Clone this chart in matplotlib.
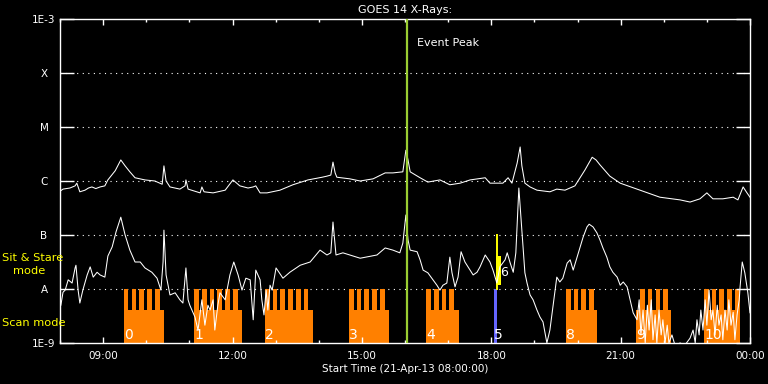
import numpy as np
import matplotlib.pyplot as plt
from matplotlib.ticker import FixedLocator, NullLocator

# GOES 14 long channel, hour of day vs log10 flux (W/m^2)
long_hours = [8.00, 8.07, 8.23, 8.35, 8.39, 8.46, 8.58, 8.66, 8.74, 8.83, 8.93, 9.04, 9.11, 9.28,
              9.41, 9.51, 9.62, 9.74, 9.97, 10.20, 10.37, 10.41, 10.46, 10.55, 10.78, 10.90,
              10.92, 10.97, 11.13, 11.25, 11.29, 11.34, 11.55, 11.83, 12.01, 12.17, 12.36,
              12.48, 12.54, 12.64, 12.80, 13.10, 13.40, 13.75, 14.08, 14.19, 14.28, 14.33,
              14.38, 14.42, 14.72, 14.96, 15.26, 15.54, 15.72, 15.95, 16.02, 16.07, 16.12,
              16.35, 16.53, 16.81, 17.04, 17.28, 17.51, 17.86, 17.97, 18.27, 18.39, 18.48,
              18.60, 18.67, 18.71, 18.78, 18.90, 19.06, 19.36, 19.52, 19.71, 19.94, 20.17,
              20.34, 20.43, 20.52, 20.75, 20.99, 21.45, 21.91, 22.38, 22.61, 22.84, 23.00,
              23.14, 23.37, 23.61, 23.72, 23.84, 23.93, 24.00]
long_logflux = [-6.19, -6.15, -6.13, -6.09, -6.04, -6.20, -6.17, -6.13, -6.11, -6.14, -6.11, -6.09,
                -5.98, -5.81, -5.61, -5.72, -5.83, -5.94, -5.98, -6.00, -6.06, -5.72, -6.00,
                -6.11, -6.15, -6.09, -5.98, -6.15, -6.19, -6.22, -6.11, -6.20, -6.22, -6.17,
                -5.98, -6.09, -6.13, -6.11, -6.09, -6.22, -6.22, -6.17, -6.07, -5.98, -5.93,
                -5.91, -5.89, -5.65, -5.85, -5.93, -5.96, -6.00, -5.96, -5.85, -5.85, -5.83,
                -5.43, -5.61, -5.83, -5.94, -6.02, -5.98, -6.07, -6.04, -5.98, -5.94, -6.04,
                -6.04, -5.94, -6.04, -5.67, -5.37, -5.72, -6.04, -6.11, -6.17, -6.20, -6.15,
                -6.17, -6.09, -5.80, -5.56, -5.61, -5.70, -5.91, -6.04, -6.17, -6.30, -6.35,
                -6.39, -6.33, -6.22, -6.33, -6.33, -6.30, -6.35, -6.11, -6.22, -6.30]

# GOES 14 short channel
short_hours = [8.02, 8.07, 8.12, 8.19, 8.28, 8.35, 8.37, 8.42, 8.46, 8.53, 8.63, 8.70, 8.77,
               8.86, 8.93, 9.04, 9.11, 9.21, 9.30, 9.41, 9.51, 9.62, 9.74, 9.86, 9.97, 10.13,
               10.25, 10.34, 10.39, 10.41, 10.46, 10.55, 10.67, 10.78, 10.85, 10.92, 10.97,
               11.01, 11.13, 11.20, 11.29, 11.36, 11.43, 11.48, 11.55, 11.59, 11.66, 11.71,
               11.83, 11.94, 12.03, 12.13, 12.22, 12.31, 12.41, 12.48, 12.54, 12.64, 12.68,
               12.73, 12.78, 12.82, 12.87, 12.92, 13.01, 13.17, 13.33, 13.57, 13.80, 14.03,
               14.19, 14.28, 14.33, 14.40, 14.56, 14.96, 15.35, 15.54, 15.72, 15.88, 15.95,
               16.02, 16.07, 16.12, 16.28, 16.35, 16.42, 16.53, 16.65, 16.74, 16.81, 16.88,
               16.97, 17.04, 17.09, 17.16, 17.23, 17.30, 17.39, 17.51, 17.58, 17.67, 17.74,
               17.86, 17.97, 18.04, 18.13, 18.20, 18.32, 18.37, 18.44, 18.51, 18.57, 18.64,
               18.71, 18.78, 18.83, 18.90, 18.97, 19.06, 19.13, 19.20, 19.29, 19.36, 19.43,
               19.52, 19.59, 19.66, 19.76, 19.83, 19.90, 19.99, 20.06, 20.13, 20.22, 20.27,
               20.36, 20.45, 20.52, 20.59, 20.68, 20.75, 20.82, 20.92, 20.99, 21.06, 21.15,
               21.22, 21.29, 21.38, 21.43, 21.47, 21.52, 21.57, 21.62, 21.66, 21.71, 21.75,
               21.80, 21.84, 21.89, 21.94, 21.98, 22.03, 22.08, 22.12, 22.19, 22.26, 22.38,
               22.49, 22.61, 22.68, 22.73, 22.77, 22.82, 22.86, 22.91, 22.96, 23.00, 23.05,
               23.10, 23.14, 23.19, 23.24, 23.28, 23.33, 23.37, 23.42, 23.47, 23.51, 23.56,
               23.61, 23.65, 23.70, 23.75, 23.77, 23.82, 23.88, 23.95, 24.00]
short_logflux = [-8.30, -8.06, -8.02, -7.83, -7.89, -7.61, -7.56, -8.02, -8.26, -8.02, -7.74, -7.59,
                 -7.78, -7.69, -7.74, -7.78, -7.39, -7.22, -6.94, -6.67, -7.00, -7.28, -7.50,
                 -7.50, -7.61, -7.69, -7.80, -8.02, -7.50, -6.91, -7.74, -8.11, -8.07, -8.20,
                 -8.26, -7.61, -8.20, -8.30, -8.52, -8.76, -8.20, -8.67, -8.30, -8.39, -8.20,
                 -8.76, -8.30, -8.07, -8.20, -7.74, -7.50, -7.74, -8.02, -7.80, -7.83, -8.57,
                 -7.65, -7.83, -8.20, -8.48, -8.02, -8.39, -7.93, -8.02, -7.61, -7.80, -7.69,
                 -7.56, -7.50, -7.28, -7.37, -7.33, -6.76, -7.37, -7.33, -7.43, -7.37, -7.24,
                 -7.28, -7.33, -7.15, -6.63, -7.09, -7.28, -7.31, -7.46, -7.65, -7.70, -7.83,
                 -7.93, -8.02, -7.93, -7.89, -7.41, -7.70, -7.96, -7.78, -7.31, -7.50, -7.65,
                 -7.74, -7.69, -7.59, -7.37, -7.50, -7.65, -7.89, -7.59, -7.46, -7.33, -7.52,
                 -7.69, -7.33, -6.13, -6.91, -7.70, -7.89, -8.11, -8.20, -8.39, -8.52, -8.61,
                 -9.00, -8.76, -8.33, -7.78, -7.87, -7.80, -7.52, -7.46, -7.65, -7.41, -7.22,
                 -7.04, -6.85, -6.80, -6.85, -6.96, -7.09, -7.24, -7.41, -7.59, -7.69, -7.78,
                 -7.93, -7.87, -7.96, -8.20, -8.44, -8.57, -8.20, -8.85, -8.39, -9.00, -8.30,
                 -8.76, -8.20, -8.94, -8.48, -9.00, -8.39, -8.85, -8.57, -9.00, -8.67, -9.00,
                 -8.85, -9.04, -9.00, -9.04, -8.91, -8.76, -9.00, -8.57, -8.85, -8.39, -8.76,
                 -8.20, -8.67, -8.02, -8.57, -8.39, -8.85, -8.30, -8.67, -8.48, -8.94, -8.39,
                 -8.76, -8.20, -8.67, -8.43, -8.94, -8.48, -8.20, -7.96, -7.50, -7.70, -8.07,
                 -8.44]

# scan mode rasters
scan_start = [9.48, 11.11, 12.75, 14.70, 16.49, 19.73, 21.36, 22.93]
scan_end = [10.41, 12.22, 13.86, 15.63, 17.25, 20.45, 22.17, 23.77]
teeth_start = [9.48, 11.11, 12.75, 14.70, 16.49, 19.73, 21.45, 22.93]
scan_teeth = [5, 6, 6, 5, 4, 4, 4, 5]
scan_labels = ['0', '1', '2', '3', '4', '8', '9', '10']
tooth_period = 0.18
tooth_width = 0.108
scan_base = 4.1e-9

# sit & stare pieces near 18:05
blue_span = [18.06, 18.13]
stare_line_hour = 18.13
stare_bar = [18.11, 18.22]
stare_bar_flux = [1.2e-8, 4.1e-8]

event_peak = 16.04

hour_ticks = [9, 12, 15, 18, 21, 24]
hour_labels = ['09:00', '12:00', '15:00', '18:00', '21:00', '00:00']
minor_hours = [8, 10, 11, 13, 14, 16, 17, 19, 20, 22, 23]
flux_ticks = [1e-9, 1e-8, 1e-7, 1e-6, 1e-5, 1e-4, 1e-3]
flux_labels = ['1E-9', 'A', 'B', 'C', 'M', 'X', '1E-3']

orange = '#FF8000'
fs = 7.5

fig = plt.figure(figsize=(7.68, 3.84), dpi=100, facecolor='black')
ax = fig.add_axes([60 / 768, 41 / 384, 690 / 768, 324 / 384], facecolor='black')
ax.set_yscale('log')
ax.set_xlim(8, 24)
ax.set_ylim(1e-9, 1e-3)

for lvl in flux_ticks[1:-1]:
    ax.axhline(lvl, color='white', lw=0.8, ls=(0, (1, 4)), zorder=0.5)

for s, e, t0, n, lab in zip(scan_start, scan_end, teeth_start, scan_teeth, scan_labels):
    ax.bar(s, scan_base - 1e-9, width=e - s, bottom=1e-9, align='edge',
           color=orange, lw=0, zorder=1)
    tx = t0 + tooth_period * np.arange(n)
    ax.bar(tx, 1e-8 - 1e-9, width=tooth_width, bottom=1e-9, align='edge',
           color=orange, lw=0, zorder=1)
    ax.text(s + 0.01, 1.18e-9, lab, color='white', fontsize=10, ha='left',
            va='baseline', zorder=2)

ax.bar(blue_span[0], 1e-8 - 1e-9, width=blue_span[1] - blue_span[0], bottom=1e-9,
       align='edge', color='#6666FF', lw=0, zorder=1)
ax.text(blue_span[0] + 0.01, 1.18e-9, '5', color='white', fontsize=10, ha='left',
        va='baseline', zorder=2)
ax.plot([stare_line_hour, stare_line_hour], [1e-8, 1e-7], color='yellow', lw=1.4, zorder=1)
ax.bar(stare_bar[0], stare_bar_flux[1] - stare_bar_flux[0], width=stare_bar[1] - stare_bar[0],
       bottom=stare_bar_flux[0], align='edge', color='yellow', lw=0, zorder=1)
ax.text(stare_bar[1] - 0.02, 10 ** -7.69, '6', color='white', fontsize=9, ha='left',
        va='center', zorder=2)

ax.plot(long_hours, 10 ** np.array(long_logflux), color='white', lw=0.75, zorder=3)
ax.plot(short_hours, 10 ** np.array(short_logflux), color='white', lw=0.75, zorder=3)

ax.axvline(event_peak, color='#9ACD32', lw=1.6, zorder=4)
ax.text(16.28, 10 ** -3.44, 'Event Peak', color='white', fontsize=8, ha='left', va='center')

for sp in ax.spines.values():
    sp.set_color('white')
    sp.set_linewidth(1.0)

ax.xaxis.set_major_locator(FixedLocator(hour_ticks))
ax.xaxis.set_minor_locator(FixedLocator(minor_hours))
ax.set_xticklabels(hour_labels)
ax.tick_params(axis='x', which='major', direction='in', length=4.3, width=1, color='white',
               top=True, labelcolor='white', labelsize=fs, pad=6)
ax.tick_params(axis='x', which='minor', direction='in', length=2.2, width=1, color='white', top=True)

ax.yaxis.set_major_locator(FixedLocator(flux_ticks))
ax.yaxis.set_minor_locator(NullLocator())
ax.set_yticklabels(flux_labels)
ax.tick_params(axis='y', which='major', direction='in', length=10, width=1, color='white',
               right=True, labelcolor='white', labelsize=fs, pad=11.5)
for t in ax.get_yticklabels():
    t.set_horizontalalignment('center')

ax.set_title('GOES 14 X-Rays:', color='white', fontsize=8, pad=4)
ax.set_xlabel('Start Time (21-Apr-13 08:00:00)', color='white', fontsize=fs, labelpad=2)

fig.text(2 / 768, 1 - 258 / 384, 'Sit & Stare', color='yellow', fontsize=8.2, ha='left', va='center')
fig.text(13 / 768, 1 - 271 / 384, 'mode', color='yellow', fontsize=8.2, ha='left', va='center')
fig.text(2 / 768, 1 - 323 / 384, 'Scan mode', color='yellow', fontsize=8.2, ha='left', va='center')

fig.savefig('out.png', dpi=100, facecolor='black')
